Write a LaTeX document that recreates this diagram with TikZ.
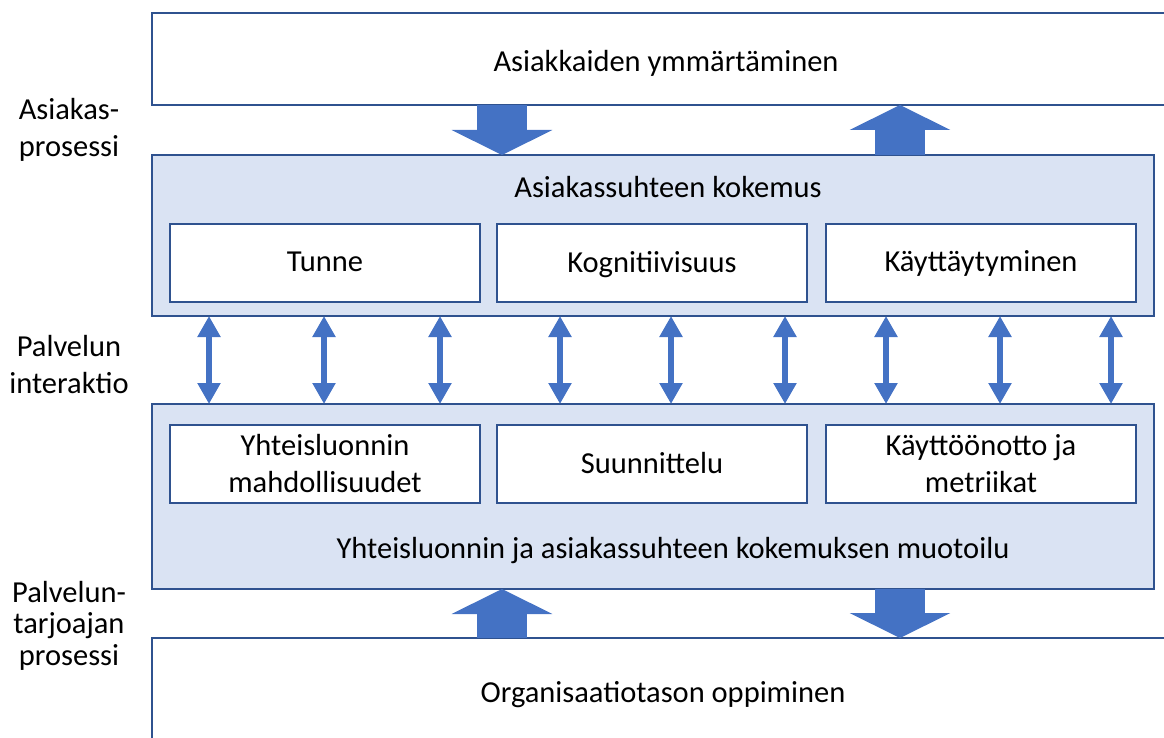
\documentclass[tikz,border=0pt]{standalone}
\usepackage{fontspec}
\setmainfont{Carlito}
\usetikzlibrary{arrows.meta}
\definecolor{edgeblue}{RGB}{47,82,143}
\definecolor{arrowblue}{RGB}{68,114,196}
\definecolor{panelblue}{RGB}{218,227,243}
\tikzset{
  txt/.style={font=\fontsize{30.5}{37}\selectfont, inner sep=0pt, outer sep=0pt},
  panel/.style={draw=edgeblue, line width=1.2pt, fill=panelblue, inner sep=0pt, outer sep=0pt, anchor=north west},
  whitebox/.style={draw=edgeblue, line width=1.2pt, fill=white, inner sep=0pt, outer sep=0pt, anchor=north west},
  innerbox/.style={whitebox, minimum width=310pt, minimum height=78pt, align=center, font=\fontsize{30.5}{37}\selectfont},
  bigarrow/.style={draw=arrowblue, line width=50pt, arrows={-Triangle[length=25pt,width=100pt]}},
  twoway/.style={draw=arrowblue, line width=5.7pt, arrows={Triangle[length=21pt,width=22pt]-Triangle[length=21pt,width=22pt]}},
}
\begin{document}
\begin{tikzpicture}[x=1pt,y=-1pt]
  \useasboundingbox (0,0) rectangle (1164,738);
  \clip (0,0) rectangle (1164,738);

  % process layers
  \node[whitebox, minimum width=1030pt, minimum height=92pt] (asiakas) at (152,13) {};
  \node[panel, minimum width=1002pt, minimum height=161pt] (kokemus) at (152,155) {};
  \node[panel, minimum width=1002pt, minimum height=185pt] (muotoilu) at (152,404) {};
  \node[whitebox, minimum width=1030pt, minimum height=120pt] (oppiminen) at (152,638) {};

  % layer titles
  \node[txt, anchor=base] (t1) at (666,72) {Asiakkaiden ymmärtäminen};
  \node[txt, anchor=base] (t2) at (668,198) {Asiakassuhteen kokemus};
  \node[txt, anchor=base] (t3) at (673,558) {Yhteisluonnin ja asiakassuhteen kokemuksen muotoilu};
  \node[txt, anchor=base] (t4) at (663,702) {Organisaatiotason oppiminen};

  % experience dimensions
  \node[innerbox, text depth=3pt] (tunne) at (170,224) {Tunne};
  \node[innerbox, text depth=3pt] (kogn) at (497,224) {Kognitiivisuus};
  \node[innerbox, text depth=3pt] (kayt) at (826,224) {Käyttäytyminen};

  % design activities
  \node[innerbox] (yhteis) at (170,425) {Yhteisluonnin\\mahdollisuudet};
  \node[innerbox, text depth=3pt] (suunn) at (497,425) {Suunnittelu};
  \node[innerbox] (kaytto) at (826,425) {Käyttöönotto ja\\metriikat};

  % side labels (base = last line)
  \node[txt, align=center, anchor=base] (l1) at (69,157) {Asiakas-\\prosessi};
  \node[txt, align=center, anchor=base] (l2) at (69,393) {Palvelun\\interaktio};
  \node[txt, align=center, anchor=base, font=\fontsize{30.5}{31.5}\selectfont] (l3) at (69,665) {Palvelun-\\tarjoajan\\prosessi};

  % flows between layers
  \coordinate (ax) at (502,0);
  \coordinate (bx) at (900,0);
  \draw[bigarrow] (asiakas.south -| ax) -- (kokemus.north -| ax);
  \draw[bigarrow] (kokemus.north -| bx) -- (asiakas.south -| bx);
  \draw[bigarrow] (oppiminen.north -| ax) -- (muotoilu.south -| ax);
  \draw[bigarrow] (muotoilu.south -| bx) -- (oppiminen.north -| bx);

  % service interaction arrows
  \foreach \x [count=\i] in {209,324,440,560,671,785,886,1000,1111} {
    \coordinate (ix\i) at (\x,0);
    \draw[twoway] (kokemus.south -| ix\i) -- (muotoilu.north -| ix\i);
  }
\end{tikzpicture}
\end{document}
